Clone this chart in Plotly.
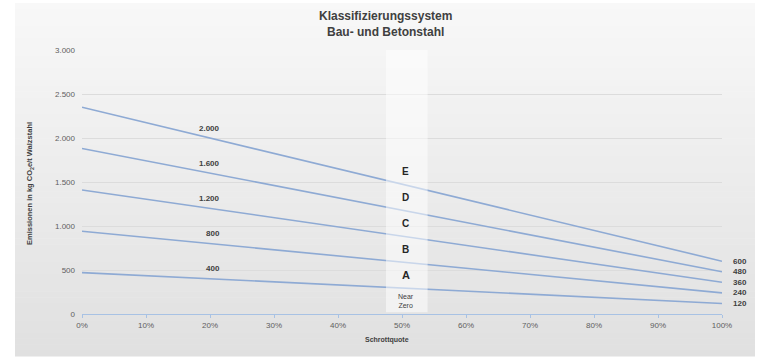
import plotly.graph_objects as go

# Scrap share (x) at which each class boundary line is defined
scrap_share = [0.0, 0.2, 1.0]

# Class boundary lines: emissions at 0 %, 20 % and 100 % scrap (kg CO2e/t)
boundary_e = [2350, 2000, 600]
boundary_d = [1880, 1600, 480]
boundary_c = [1410, 1200, 360]
boundary_b = [940, 800, 240]
boundary_a = [470, 400, 120]
boundaries = [boundary_e, boundary_d, boundary_c, boundary_b, boundary_a]

class_names = ["E", "D", "C", "B", "A", "Near<br>Zero"]
x_ticks = [0, 0.1, 0.2, 0.3, 0.4, 0.5, 0.6, 0.7, 0.8, 0.9, 1.0]

W, H = 760, 358
L, R, T, B = 82, 38, 50, 44
PW, PH = W - L - R, H - T - B

FONT = "Liberation Sans, Arial, sans-serif"
LINE_COLOR = "#8eaad4"
TEXT_DARK = "#404040"
TEXT_GRAY = "#606060"


def px_x(p):
    return (p - L) / PW


def px_y(q):
    return (H - B - q) / PH


def fmt(v):
    return f"{v:,}".replace(",", ".")


fig = go.Figure()

for line in boundaries:
    fig.add_trace(go.Scatter(
        x=scrap_share, y=line, mode="lines",
        line=dict(color=LINE_COLOR, width=1.6),
        hoverinfo="skip", showlegend=False,
    ))

shapes = []
# Vertical grey gradient behind the chart area
n_bands = 60
top_px, bot_px = 3, 356
c_top, c_bot = 248, 224
for i in range(n_bands):
    q0 = top_px + (bot_px - top_px) * i / n_bands
    q1 = top_px + (bot_px - top_px) * (i + 1) / n_bands
    c = round(c_top + (c_bot - c_top) * (i + 0.5) / n_bands)
    shapes.append(dict(
        type="rect", xref="paper", yref="paper",
        x0=px_x(15), x1=px_x(755), y0=px_y(q1 + 0.5), y1=px_y(q0),
        fillcolor=f"rgb({c},{c},{c})", line=dict(width=0), layer="below",
    ))

# Highlight column at 50 % scrap
shapes.append(dict(
    type="rect", xref="x", yref="y", x0=0.475, x1=0.54, y0=20, y1=3020,
    fillcolor="rgba(255,255,255,0.52)", line=dict(width=0), layer="above",
))

annotations = []

# Threshold value at 20 % scrap, above each line
for line in boundaries:
    annotations.append(dict(
        x=scrap_share[1], y=line[1], xref="x", yref="y",
        text=f"<b>{fmt(line[1])}</b>", showarrow=False,
        xanchor="right", yanchor="middle", xshift=12, yshift=10,
        font=dict(family=FONT, size=8, color=TEXT_DARK),
    ))
    # End value at 100 % scrap
    annotations.append(dict(
        x=scrap_share[-1], y=line[-1], xref="x", yref="y",
        text=f"<b>{fmt(line[-1])}</b>", showarrow=False,
        xanchor="left", yanchor="middle", xshift=9,
        font=dict(family=FONT, size=8, color=TEXT_DARK),
    ))


def at_half(line):
    x0, x1, x2 = scrap_share
    return line[1] + (line[2] - line[1]) * (0.5 - x1) / (x2 - x1)


mids = [at_half(l) for l in boundaries]
class_y = [mids[0] + (mids[0] - mids[1]) / 2]
for i in range(len(mids) - 1):
    class_y.append((mids[i] + mids[i + 1]) / 2)
class_y.append(mids[-1] / 2)

for i, (name, yv) in enumerate(zip(class_names, class_y)):
    if i == len(class_names) - 1:
        font = dict(family=FONT, size=7, color=TEXT_DARK)
        text = name
    else:
        font = dict(family=FONT, size=11 if name == "A" else 10, color="#262626")
        text = f"<b>{name}</b>"
    annotations.append(dict(
        x=0.506, y=yv, xref="x", yref="y", text=text, showarrow=False,
        xanchor="center", yanchor="middle", font=font,
    ))

# Title
annotations.append(dict(
    x=px_x(385), y=px_y(7), xref="paper", yref="paper",
    text="<b>Klassifizierungssystem<br>Bau- und Betonstahl</b>",
    showarrow=False, xanchor="center", yanchor="top",
    font=dict(family=FONT, size=12, color=TEXT_DARK),
))
# Axis titles
annotations.append(dict(
    x=px_x(387), y=px_y(340), xref="paper", yref="paper",
    text="<b>Schrottquote</b>", showarrow=False,
    xanchor="center", yanchor="middle",
    font=dict(family=FONT, size=7, color=TEXT_DARK),
))
annotations.append(dict(
    x=px_x(30), y=px_y(184), xref="paper", yref="paper",
    text="<b>Emissionen in kg CO<sub>2</sub>e/t Walzstahl</b>",
    showarrow=False, textangle=-90, xanchor="center", yanchor="middle",
    font=dict(family=FONT, size=7.5, color=TEXT_DARK),
))

fig.update_layout(
    width=W, height=H,
    margin=dict(l=L, r=R, t=T, b=B, autoexpand=False),
    paper_bgcolor="white", plot_bgcolor="rgba(0,0,0,0)",
    separators=",.",
    shapes=shapes, annotations=annotations,
    showlegend=False,
    font=dict(family=FONT, size=8, color=TEXT_GRAY),
)
fig.update_xaxes(
    range=[0, 1], tickvals=x_ticks, tickformat=".0%",
    showgrid=False, zeroline=False,
    showline=True, linecolor="#a8c2e4", linewidth=1,
    ticks="outside", ticklen=3, tickcolor="#a8c2e4",
    tickfont=dict(family=FONT, size=8, color=TEXT_GRAY),
    fixedrange=True,
)
fig.update_yaxes(
    range=[0, 3000], dtick=500, tickformat=",d",
    showgrid=True, gridcolor="#dcdcdc", gridwidth=1,
    zeroline=False, showline=False, ticks="", ticklabelstandoff=6,
    tickfont=dict(family=FONT, size=8, color=TEXT_GRAY),
    fixedrange=True,
)

fig.write_html("out.html")
